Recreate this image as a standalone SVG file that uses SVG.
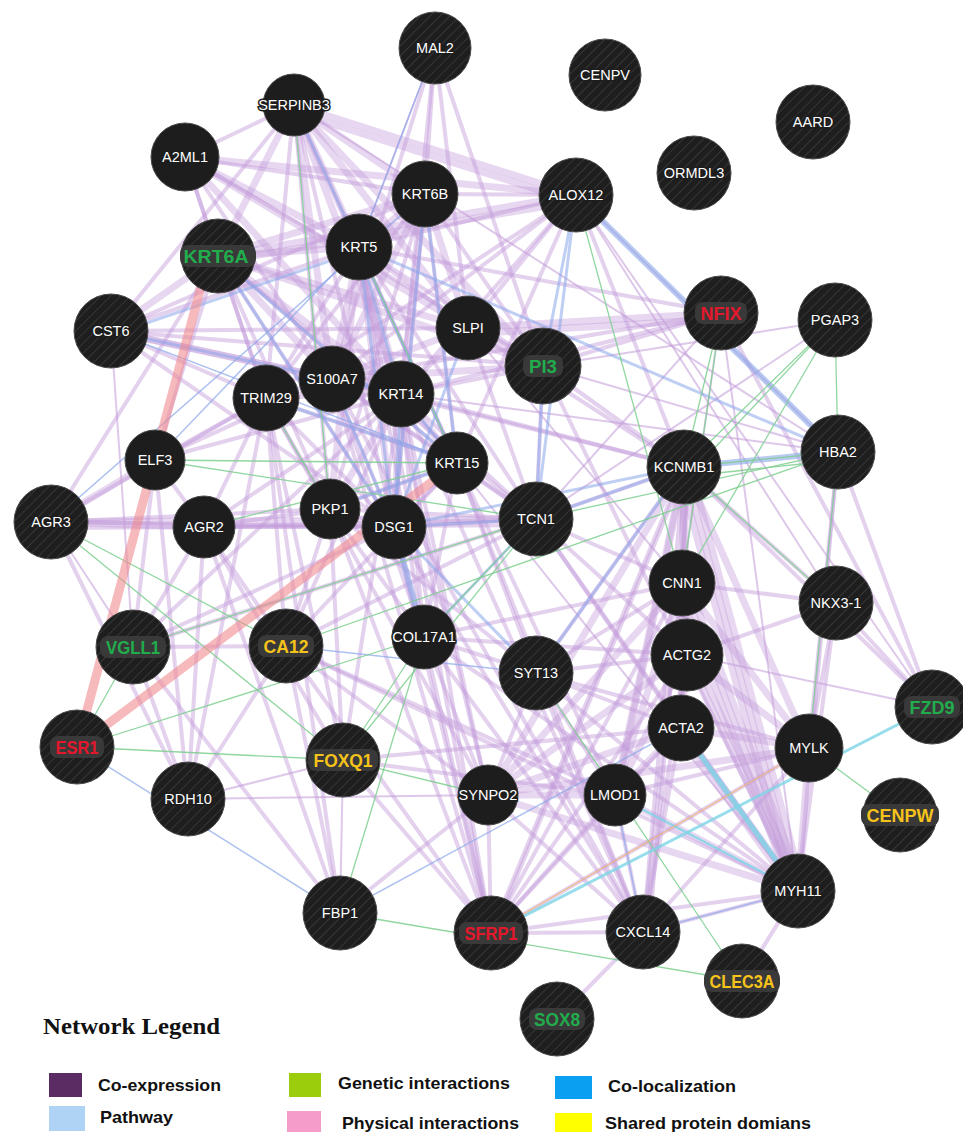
<svg xmlns="http://www.w3.org/2000/svg" width="963" height="1132" viewBox="0 0 963 1132">
<defs>
<pattern id="hatch" width="7" height="7" patternUnits="userSpaceOnUse" patternTransform="rotate(45)">
<rect width="7" height="7" fill="#1e1e1e"/>
<line x1="0" y1="0" x2="0" y2="7" stroke="#363636" stroke-width="2"/>
</pattern>
<style>
.p3 line{stroke:#c39bd9;stroke-opacity:.4;stroke-width:7}
.p2 line{stroke:#c39bd9;stroke-opacity:.46;stroke-width:4}
.p1 line{stroke:#c39bd9;stroke-opacity:.55;stroke-width:2}
.b3 line{stroke:#8aa6ea;stroke-opacity:.6;stroke-width:6}
.b2 line{stroke:#8aa6ea;stroke-opacity:.55;stroke-width:3}
.b1 line{stroke:#8aa6ea;stroke-opacity:.7;stroke-width:1.5}
.gr line{stroke:#7ccf8e;stroke-opacity:.85;stroke-width:1.3}
.rd line{stroke:#f08a8f;stroke-opacity:.6;stroke-width:9}
.cy line{stroke:#7dd4e6;stroke-opacity:.8}
.or line{stroke:#f2b878;stroke-opacity:.8;stroke-width:1.3}
.q{fill:url(#hatch);stroke:#4a4a4a;stroke-width:1}
.s{fill:#1d1d1d;stroke:#4a4a4a;stroke-width:1}
.t{font-family:"Liberation Sans",Arial,sans-serif;font-size:14.5px;fill:#fff;text-anchor:middle;stroke:#1d1d1d;stroke-width:3;paint-order:stroke}
.c{font-family:"Liberation Sans",Arial,sans-serif;font-size:17.5px;font-weight:bold;text-anchor:middle}
.bg{fill:#393939}
.gn{fill:#22ad4c}.rdt{fill:#e3182c}.yl{fill:#f6c31b}
.lg{font-family:"Liberation Sans",Arial,sans-serif;font-size:17px;font-weight:bold;fill:#111}
</style>
</defs>
<rect width="963" height="1132" fill="#fff"/>
<g id="connectors" fill="none" stroke-linecap="round">
<g class="p3">
<line x1="294" y1="105" x2="218" y2="256"/><line x1="294" y1="105" x2="359" y2="247"/><line x1="294" y1="105" x2="425" y2="194"/>
<line x1="294" y1="105" x2="332" y2="379"/><line x1="294" y1="105" x2="401" y2="394"/><line x1="294" y1="105" x2="576" y2="195"/>
<line x1="294" y1="105" x2="468" y2="328"/><line x1="294" y1="105" x2="543" y2="366"/><line x1="294" y1="112" x2="576" y2="202"/>
<line x1="218" y1="256" x2="359" y2="247"/><line x1="218" y1="256" x2="425" y2="194"/><line x1="218" y1="256" x2="401" y2="394"/>
<line x1="218" y1="256" x2="332" y2="379"/><line x1="218" y1="256" x2="468" y2="328"/><line x1="218" y1="256" x2="543" y2="366"/>
<line x1="218" y1="256" x2="576" y2="195"/><line x1="218" y1="262" x2="576" y2="201"/>
<line x1="359" y1="247" x2="401" y2="394"/><line x1="359" y1="247" x2="425" y2="194"/><line x1="359" y1="247" x2="332" y2="379"/>
<line x1="359" y1="247" x2="394" y2="527"/><line x1="359" y1="247" x2="330" y2="509"/>
<line x1="425" y1="194" x2="401" y2="394"/><line x1="425" y1="194" x2="332" y2="379"/><line x1="425" y1="194" x2="468" y2="328"/>
<line x1="401" y1="394" x2="330" y2="509"/><line x1="401" y1="394" x2="394" y2="527"/><line x1="401" y1="394" x2="457" y2="463"/>
<line x1="332" y1="379" x2="543" y2="366"/><line x1="332" y1="379" x2="468" y2="328"/><line x1="468" y1="328" x2="543" y2="366"/>
<line x1="111" y1="331" x2="218" y2="256"/><line x1="111" y1="331" x2="401" y2="394"/><line x1="111" y1="331" x2="332" y2="379"/>
<line x1="721" y1="313" x2="468" y2="328"/><line x1="721" y1="319" x2="468" y2="334"/>
<line x1="185" y1="157" x2="359" y2="247"/><line x1="185" y1="157" x2="401" y2="394"/><line x1="185" y1="157" x2="468" y2="328"/>
<line x1="185" y1="157" x2="576" y2="195"/>
<line x1="51" y1="522" x2="536" y2="519"/><line x1="51" y1="522" x2="204" y2="527"/><line x1="155" y1="460" x2="51" y2="522"/>
<line x1="684" y1="467" x2="682" y2="583"/><line x1="684" y1="467" x2="687" y2="655"/><line x1="684" y1="467" x2="681" y2="728"/>
<line x1="684" y1="467" x2="798" y2="891"/><line x1="690" y1="467" x2="804" y2="891"/><line x1="678" y1="467" x2="792" y2="891"/>
<line x1="684" y1="467" x2="809" y2="748"/><line x1="684" y1="467" x2="615" y2="795"/><line x1="684" y1="473" x2="615" y2="801"/>
<line x1="682" y1="583" x2="687" y2="655"/><line x1="682" y1="583" x2="681" y2="728"/><line x1="682" y1="583" x2="798" y2="891"/>
<line x1="676" y1="583" x2="792" y2="891"/><line x1="688" y1="583" x2="804" y2="891"/><line x1="682" y1="583" x2="809" y2="748"/><line x1="682" y1="583" x2="615" y2="795"/>
<line x1="687" y1="655" x2="681" y2="728"/><line x1="687" y1="655" x2="798" y2="891"/><line x1="693" y1="655" x2="804" y2="891"/>
<line x1="687" y1="655" x2="809" y2="748"/><line x1="687" y1="655" x2="615" y2="795"/>
<line x1="681" y1="728" x2="798" y2="891"/><line x1="681" y1="734" x2="798" y2="897"/><line x1="681" y1="728" x2="809" y2="748"/><line x1="681" y1="728" x2="615" y2="795"/>
<line x1="809" y1="748" x2="798" y2="891"/><line x1="615" y1="795" x2="798" y2="891"/>
<line x1="488" y1="795" x2="798" y2="891"/><line x1="488" y1="795" x2="687" y2="655"/><line x1="488" y1="795" x2="682" y2="583"/>
<line x1="488" y1="795" x2="684" y2="467"/><line x1="488" y1="795" x2="681" y2="728"/><line x1="488" y1="795" x2="615" y2="795"/>
<line x1="488" y1="795" x2="809" y2="748"/>
</g>
<g class="p2">
<line x1="294" y1="105" x2="266" y2="398"/><line x1="294" y1="105" x2="394" y2="527"/><line x1="294" y1="105" x2="330" y2="509"/>
<line x1="294" y1="105" x2="457" y2="463"/>
<line x1="218" y1="256" x2="266" y2="398"/><line x1="218" y1="256" x2="394" y2="527"/><line x1="218" y1="256" x2="330" y2="509"/>
<line x1="218" y1="256" x2="457" y2="463"/>
<line x1="359" y1="247" x2="266" y2="398"/><line x1="359" y1="247" x2="457" y2="463"/><line x1="359" y1="247" x2="576" y2="195"/>
<line x1="359" y1="247" x2="468" y2="328"/><line x1="359" y1="247" x2="543" y2="366"/><line x1="359" y1="247" x2="721" y2="313"/>
<line x1="425" y1="194" x2="576" y2="195"/><line x1="425" y1="194" x2="543" y2="366"/><line x1="425" y1="194" x2="394" y2="527"/>
<line x1="425" y1="194" x2="330" y2="509"/><line x1="425" y1="194" x2="266" y2="398"/><line x1="425" y1="194" x2="457" y2="463"/>
<line x1="401" y1="394" x2="266" y2="398"/><line x1="401" y1="394" x2="468" y2="328"/><line x1="401" y1="394" x2="543" y2="366"/>
<line x1="332" y1="379" x2="266" y2="398"/><line x1="332" y1="379" x2="394" y2="527"/><line x1="332" y1="379" x2="457" y2="463"/>
<line x1="266" y1="398" x2="330" y2="509"/><line x1="266" y1="398" x2="394" y2="527"/><line x1="266" y1="398" x2="457" y2="463"/>
<line x1="330" y1="509" x2="394" y2="527"/><line x1="394" y1="527" x2="457" y2="463"/><line x1="330" y1="509" x2="457" y2="463"/>
<line x1="111" y1="331" x2="359" y2="247"/><line x1="111" y1="331" x2="425" y2="194"/><line x1="111" y1="331" x2="468" y2="328"/>
<line x1="111" y1="331" x2="543" y2="366"/><line x1="111" y1="331" x2="266" y2="398"/><line x1="111" y1="331" x2="394" y2="527"/>
<line x1="111" y1="331" x2="294" y2="105"/>
<line x1="185" y1="157" x2="218" y2="256"/><line x1="185" y1="157" x2="425" y2="194"/><line x1="185" y1="157" x2="332" y2="379"/>
<line x1="185" y1="157" x2="543" y2="366"/><line x1="185" y1="157" x2="266" y2="398"/><line x1="185" y1="157" x2="294" y2="105"/>
<line x1="576" y1="195" x2="468" y2="328"/><line x1="576" y1="195" x2="332" y2="379"/><line x1="576" y1="195" x2="401" y2="394"/>
<line x1="576" y1="195" x2="457" y2="463"/><line x1="576" y1="195" x2="266" y2="398"/>
<line x1="435" y1="48" x2="425" y2="194"/><line x1="435" y1="48" x2="468" y2="328"/><line x1="435" y1="48" x2="543" y2="366"/>
<line x1="435" y1="48" x2="401" y2="394"/><line x1="435" y1="48" x2="332" y2="379"/>
<line x1="155" y1="460" x2="218" y2="256"/><line x1="155" y1="460" x2="266" y2="398"/><line x1="155" y1="460" x2="204" y2="527"/>
<line x1="155" y1="460" x2="332" y2="379"/><line x1="155" y1="460" x2="401" y2="394"/>
<line x1="51" y1="522" x2="330" y2="509"/><line x1="51" y1="522" x2="394" y2="527"/><line x1="51" y1="522" x2="218" y2="256"/>
<line x1="51" y1="522" x2="266" y2="398"/><line x1="51" y1="528" x2="536" y2="525"/>
<line x1="204" y1="527" x2="330" y2="509"/><line x1="204" y1="527" x2="394" y2="527"/><line x1="204" y1="527" x2="536" y2="519"/>
<line x1="204" y1="527" x2="266" y2="398"/><line x1="204" y1="527" x2="401" y2="394"/>
<line x1="536" y1="519" x2="457" y2="463"/><line x1="536" y1="519" x2="394" y2="527"/><line x1="536" y1="519" x2="330" y2="509"/>
<line x1="536" y1="519" x2="401" y2="394"/><line x1="536" y1="519" x2="332" y2="379"/><line x1="536" y1="519" x2="468" y2="328"/>
<line x1="536" y1="519" x2="543" y2="366"/><line x1="536" y1="519" x2="359" y2="247"/><line x1="536" y1="519" x2="218" y2="256"/>
<line x1="424" y1="637" x2="401" y2="394"/><line x1="424" y1="637" x2="359" y2="247"/><line x1="424" y1="637" x2="394" y2="527"/>
<line x1="424" y1="637" x2="457" y2="463"/><line x1="424" y1="637" x2="332" y2="379"/><line x1="424" y1="637" x2="330" y2="509"/>
<line x1="133" y1="647" x2="155" y2="460"/><line x1="133" y1="647" x2="204" y2="527"/><line x1="133" y1="647" x2="394" y2="527"/>
<line x1="133" y1="647" x2="536" y2="519"/><line x1="133" y1="647" x2="286" y2="646"/><line x1="133" y1="647" x2="401" y2="394"/>
<line x1="286" y1="646" x2="204" y2="527"/><line x1="286" y1="646" x2="536" y2="519"/><line x1="286" y1="646" x2="457" y2="463"/>
<line x1="286" y1="646" x2="266" y2="398"/><line x1="286" y1="646" x2="401" y2="394"/><line x1="286" y1="646" x2="330" y2="509"/>
<line x1="343" y1="760" x2="401" y2="394"/><line x1="343" y1="760" x2="266" y2="398"/><line x1="343" y1="760" x2="330" y2="509"/>
<line x1="343" y1="760" x2="204" y2="527"/>
<line x1="188" y1="799" x2="204" y2="527"/><line x1="188" y1="799" x2="155" y2="460"/><line x1="188" y1="799" x2="266" y2="398"/>
<line x1="188" y1="799" x2="51" y2="522"/><line x1="188" y1="799" x2="286" y2="646"/><line x1="188" y1="799" x2="133" y2="647"/>
<line x1="340" y1="913" x2="286" y2="646"/><line x1="340" y1="913" x2="204" y2="527"/><line x1="340" y1="913" x2="266" y2="398"/>
<line x1="340" y1="913" x2="133" y2="647"/>
<line x1="491" y1="933" x2="401" y2="394"/><line x1="491" y1="933" x2="330" y2="509"/><line x1="491" y1="933" x2="359" y2="247"/>
<line x1="491" y1="933" x2="394" y2="527"/><line x1="491" y1="933" x2="332" y2="379"/><line x1="491" y1="933" x2="424" y2="637"/>
<line x1="491" y1="933" x2="286" y2="646"/><line x1="491" y1="933" x2="343" y2="760"/>
<line x1="721" y1="313" x2="332" y2="379"/><line x1="721" y1="313" x2="543" y2="366"/><line x1="721" y1="313" x2="932" y2="707"/>
<line x1="721" y1="313" x2="401" y2="394"/>
<line x1="684" y1="467" x2="536" y2="673"/><line x1="684" y1="467" x2="491" y2="933"/><line x1="684" y1="467" x2="643" y2="932"/>
<line x1="684" y1="467" x2="836" y2="603"/><line x1="690" y1="467" x2="649" y2="932"/><line x1="684" y1="473" x2="491" y2="939"/>
<line x1="682" y1="583" x2="491" y2="933"/><line x1="682" y1="583" x2="643" y2="932"/>
<line x1="687" y1="655" x2="491" y2="933"/><line x1="687" y1="655" x2="643" y2="932"/>
<line x1="798" y1="891" x2="643" y2="932"/><line x1="798" y1="891" x2="491" y2="933"/><line x1="798" y1="891" x2="536" y2="673"/>
<line x1="798" y1="891" x2="836" y2="603"/><line x1="798" y1="891" x2="838" y2="452"/><line x1="798" y1="891" x2="742" y2="981"/>
<line x1="809" y1="748" x2="643" y2="932"/><line x1="809" y1="748" x2="491" y2="933"/>
<line x1="615" y1="795" x2="491" y2="933"/><line x1="615" y1="795" x2="643" y2="932"/>
<line x1="681" y1="728" x2="491" y2="933"/><line x1="681" y1="728" x2="643" y2="932"/>
<line x1="536" y1="673" x2="682" y2="583"/><line x1="536" y1="673" x2="687" y2="655"/><line x1="536" y1="673" x2="615" y2="795"/>
<line x1="536" y1="673" x2="488" y2="795"/><line x1="536" y1="673" x2="681" y2="728"/>
<line x1="536" y1="673" x2="809" y2="748"/><line x1="536" y1="673" x2="643" y2="932"/><line x1="488" y1="795" x2="643" y2="932"/>
<line x1="488" y1="795" x2="491" y2="933"/><line x1="615" y1="795" x2="809" y2="748"/><line x1="424" y1="637" x2="643" y2="932"/>
<line x1="424" y1="637" x2="682" y2="583"/><line x1="536" y1="519" x2="687" y2="655"/><line x1="536" y1="519" x2="681" y2="728"/>
<line x1="836" y1="603" x2="687" y2="655"/><line x1="836" y1="603" x2="682" y2="583"/><line x1="836" y1="603" x2="932" y2="707"/>
<line x1="838" y1="452" x2="932" y2="707"/><line x1="684" y1="467" x2="932" y2="707"/><line x1="836" y1="603" x2="809" y2="748"/>
<line x1="838" y1="452" x2="809" y2="748"/>
<line x1="557" y1="1019" x2="643" y2="932"/><line x1="491" y1="933" x2="643" y2="932"/>
<line x1="536" y1="519" x2="684" y2="467"/><line x1="536" y1="519" x2="682" y2="583"/><line x1="536" y1="519" x2="798" y2="891"/>
<line x1="424" y1="637" x2="687" y2="655"/><line x1="424" y1="637" x2="798" y2="891"/><line x1="424" y1="637" x2="488" y2="795"/>
<line x1="286" y1="646" x2="488" y2="795"/><line x1="286" y1="646" x2="615" y2="795"/><line x1="286" y1="646" x2="798" y2="891"/>
<line x1="343" y1="760" x2="615" y2="795"/><line x1="343" y1="760" x2="681" y2="728"/><line x1="340" y1="913" x2="488" y2="795"/>
<line x1="576" y1="195" x2="684" y2="467"/><line x1="543" y1="366" x2="684" y2="467"/><line x1="543" y1="366" x2="798" y2="891"/>
<line x1="468" y1="328" x2="684" y2="467"/><line x1="401" y1="394" x2="684" y2="467"/><line x1="332" y1="379" x2="684" y2="467"/>
<line x1="643" y1="932" x2="401" y2="394"/><line x1="643" y1="932" x2="457" y2="463"/><line x1="643" y1="932" x2="332" y2="379"/>
<line x1="643" y1="932" x2="394" y2="527"/>
<line x1="488" y1="795" x2="401" y2="394"/><line x1="488" y1="795" x2="359" y2="247"/><line x1="488" y1="795" x2="266" y2="398"/>
<line x1="615" y1="795" x2="457" y2="463"/><line x1="536" y1="673" x2="457" y2="463"/><line x1="536" y1="673" x2="330" y2="509"/>
<line x1="536" y1="673" x2="424" y2="637"/>
</g>
<g class="p1">
<line x1="835" y1="320" x2="543" y2="366"/><line x1="835" y1="320" x2="536" y2="519"/><line x1="721" y1="313" x2="536" y2="519"/>
<line x1="721" y1="313" x2="682" y2="583"/><line x1="721" y1="313" x2="798" y2="891"/><line x1="932" y1="707" x2="687" y2="655"/>
<line x1="188" y1="799" x2="488" y2="795"/><line x1="188" y1="799" x2="343" y2="760"/><line x1="111" y1="331" x2="133" y2="647"/>
<line x1="838" y1="452" x2="543" y2="366"/><line x1="838" y1="452" x2="401" y2="394"/><line x1="576" y1="195" x2="836" y2="603"/>
<line x1="576" y1="195" x2="932" y2="707"/><line x1="576" y1="195" x2="838" y2="452"/><line x1="435" y1="48" x2="359" y2="247"/>
<line x1="340" y1="913" x2="343" y2="760"/><line x1="51" y1="522" x2="133" y2="647"/><line x1="294" y1="105" x2="838" y2="452"/>
<line x1="401" y1="394" x2="798" y2="891"/><line x1="468" y1="328" x2="682" y2="583"/>
</g>
<g class="b3">
<line x1="576" y1="195" x2="838" y2="452"/><line x1="684" y1="467" x2="838" y2="452"/><line x1="394" y1="527" x2="424" y2="637"/>
</g>
<g class="b2">
<line x1="576" y1="195" x2="543" y2="366"/><line x1="576" y1="195" x2="536" y2="519"/><line x1="684" y1="467" x2="536" y2="519"/>
<line x1="684" y1="467" x2="394" y2="527"/><line x1="359" y1="247" x2="838" y2="452"/><line x1="111" y1="335" x2="359" y2="251"/>
<line x1="218" y1="256" x2="394" y2="527"/><line x1="218" y1="256" x2="457" y2="463"/><line x1="425" y1="194" x2="457" y2="463"/>
<line x1="294" y1="105" x2="457" y2="463"/><line x1="330" y1="509" x2="457" y2="463"/><line x1="401" y1="394" x2="457" y2="463"/>
<line x1="359" y1="247" x2="401" y2="394"/><line x1="266" y1="398" x2="457" y2="463"/><line x1="543" y1="366" x2="536" y2="519"/>
<line x1="394" y1="527" x2="536" y2="519"/><line x1="394" y1="527" x2="536" y2="673"/><line x1="424" y1="637" x2="536" y2="519"/>
<line x1="536" y1="673" x2="684" y2="467"/><line x1="111" y1="331" x2="401" y2="394"/><line x1="359" y1="247" x2="394" y2="527"/>
<line x1="332" y1="379" x2="394" y2="527"/><line x1="401" y1="394" x2="394" y2="527"/><line x1="425" y1="194" x2="394" y2="527"/>
<line x1="468" y1="328" x2="394" y2="527"/>
</g>
<g class="b1">
<line x1="435" y1="48" x2="359" y2="247"/><line x1="77" y1="747" x2="340" y2="913"/><line x1="286" y1="646" x2="536" y2="673"/>
<line x1="340" y1="913" x2="681" y2="728"/><line x1="643" y1="932" x2="798" y2="891"/><line x1="615" y1="795" x2="643" y2="932"/>
<line x1="155" y1="460" x2="359" y2="247"/><line x1="111" y1="331" x2="457" y2="463"/><line x1="51" y1="522" x2="425" y2="194"/>
</g>
<g class="gr">
<line x1="835" y1="320" x2="684" y2="467"/><line x1="835" y1="320" x2="692" y2="472"/><line x1="835" y1="320" x2="838" y2="452"/>
<line x1="835" y1="320" x2="682" y2="583"/><line x1="721" y1="313" x2="684" y2="467"/><line x1="721" y1="313" x2="682" y2="583"/>
<line x1="838" y1="452" x2="684" y2="467"/><line x1="838" y1="460" x2="690" y2="476"/><line x1="838" y1="452" x2="809" y2="748"/>
<line x1="838" y1="452" x2="536" y2="519"/><line x1="576" y1="195" x2="682" y2="583"/><line x1="294" y1="105" x2="330" y2="509"/>
<line x1="77" y1="747" x2="133" y2="647"/><line x1="77" y1="747" x2="343" y2="760"/><line x1="51" y1="522" x2="286" y2="646"/>
<line x1="51" y1="522" x2="343" y2="760"/><line x1="155" y1="460" x2="536" y2="519"/><line x1="155" y1="460" x2="457" y2="463"/>
<line x1="204" y1="527" x2="457" y2="463"/><line x1="286" y1="646" x2="838" y2="452"/><line x1="424" y1="637" x2="536" y2="519"/>
<line x1="343" y1="760" x2="536" y2="519"/><line x1="343" y1="760" x2="424" y2="637"/><line x1="424" y1="637" x2="340" y2="913"/>
<line x1="340" y1="913" x2="742" y2="981"/><line x1="536" y1="673" x2="742" y2="981"/><line x1="809" y1="748" x2="900" y2="815"/>
<line x1="343" y1="760" x2="488" y2="795"/><line x1="836" y1="603" x2="684" y2="467"/><line x1="266" y1="398" x2="330" y2="509"/>
<line x1="359" y1="247" x2="457" y2="463"/><line x1="77" y1="747" x2="424" y2="637"/><line x1="133" y1="647" x2="536" y2="519"/>
</g>
<g class="rd">
<line x1="77" y1="747" x2="205" y2="272"/><line x1="77" y1="747" x2="457" y2="463"/>
</g>
<g class="cy">
<line x1="491" y1="933" x2="932" y2="707" stroke-width="3"/><line x1="681" y1="728" x2="798" y2="891" stroke-width="5"/>
<line x1="615" y1="795" x2="798" y2="891" stroke-width="2.5"/>
</g>
<g class="or">
<line x1="491" y1="933" x2="809" y2="748"/>
</g>
</g>
<g id="nodes">
<g id="n-MAL2"><circle class="q" cx="435" cy="48" r="36"/><text class="t" x="435" y="53">MAL2</text></g>
<g id="n-CENPV"><circle class="q" cx="605" cy="75" r="36"/><text class="t" x="605" y="80">CENPV</text></g>
<g id="n-AARD"><circle class="q" cx="813" cy="122" r="37"/><text class="t" x="813" y="127">AARD</text></g>
<g id="n-SERPINB3"><circle class="s" cx="294" cy="105" r="31"/><text class="t" x="294" y="110">SERPINB3</text></g>
<g id="n-A2ML1"><circle class="s" cx="185" cy="157" r="34"/><text class="t" x="185" y="162">A2ML1</text></g>
<g id="n-ORMDL3"><circle class="q" cx="694" cy="173" r="37"/><text class="t" x="694" y="178">ORMDL3</text></g>
<g id="n-KRT6B"><circle class="s" cx="425" cy="194" r="33"/><text class="t" x="425" y="199">KRT6B</text></g>
<g id="n-ALOX12"><circle class="q" cx="576" cy="195" r="37"/><text class="t" x="576" y="200">ALOX12</text></g>
<g id="n-KRT6A"><circle class="q" cx="218" cy="256" r="37"/><rect class="bg" x="180" y="245" width="76" height="22" rx="8"/><text class="c gn" x="216" y="263" textLength="65" lengthAdjust="spacingAndGlyphs">KRT6A</text></g>
<g id="n-KRT5"><circle class="s" cx="359" cy="247" r="33"/><text class="t" x="359" y="252">KRT5</text></g>
<g id="n-NFIX"><circle class="q" cx="721" cy="313" r="37"/><rect class="bg" x="695" y="302" width="52" height="22" rx="8"/><text class="c rdt" x="721" y="320" textLength="41" lengthAdjust="spacingAndGlyphs">NFIX</text></g>
<g id="n-PGAP3"><circle class="q" cx="835" cy="320" r="37"/><text class="t" x="835" y="325">PGAP3</text></g>
<g id="n-CST6"><circle class="q" cx="111" cy="331" r="37"/><text class="t" x="111" y="336">CST6</text></g>
<g id="n-SLPI"><circle class="s" cx="468" cy="328" r="32"/><text class="t" x="468" y="333">SLPI</text></g>
<g id="n-PI3"><circle class="q" cx="543" cy="366" r="38"/><rect class="bg" x="523" y="355" width="40" height="22" rx="8"/><text class="c gn" x="543" y="373" textLength="28" lengthAdjust="spacingAndGlyphs">PI3</text></g>
<g id="n-S100A7"><circle class="s" cx="332" cy="379" r="33"/><text class="t" x="332" y="384">S100A7</text></g>
<g id="n-KRT14"><circle class="s" cx="401" cy="394" r="33"/><text class="t" x="401" y="399">KRT14</text></g>
<g id="n-TRIM29"><circle class="s" cx="266" cy="398" r="33"/><text class="t" x="266" y="403">TRIM29</text></g>
<g id="n-HBA2"><circle class="q" cx="838" cy="452" r="37"/><text class="t" x="838" y="457">HBA2</text></g>
<g id="n-KRT15"><circle class="s" cx="457" cy="463" r="31"/><text class="t" x="457" y="468">KRT15</text></g>
<g id="n-KCNMB1"><circle class="q" cx="684" cy="467" r="37"/><text class="t" x="684" y="472">KCNMB1</text></g>
<g id="n-ELF3"><circle class="s" cx="155" cy="460" r="30"/><text class="t" x="155" y="465">ELF3</text></g>
<g id="n-AGR3"><circle class="q" cx="51" cy="522" r="37"/><text class="t" x="51" y="527">AGR3</text></g>
<g id="n-AGR2"><circle class="s" cx="204" cy="527" r="31"/><text class="t" x="204" y="532">AGR2</text></g>
<g id="n-PKP1"><circle class="s" cx="330" cy="509" r="30"/><text class="t" x="330" y="514">PKP1</text></g>
<g id="n-DSG1"><circle class="s" cx="394" cy="527" r="32"/><text class="t" x="394" y="532">DSG1</text></g>
<g id="n-TCN1"><circle class="q" cx="536" cy="519" r="37"/><text class="t" x="536" y="524">TCN1</text></g>
<g id="n-CNN1"><circle class="s" cx="682" cy="583" r="33"/><text class="t" x="682" y="588">CNN1</text></g>
<g id="n-NKX3-1"><circle class="q" cx="836" cy="603" r="37"/><text class="t" x="836" y="608">NKX3-1</text></g>
<g id="n-VGLL1"><circle class="q" cx="133" cy="647" r="37"/><rect class="bg" x="100" y="636" width="66" height="22" rx="8"/><text class="c gn" x="133" y="654" textLength="54" lengthAdjust="spacingAndGlyphs">VGLL1</text></g>
<g id="n-CA12"><circle class="q" cx="286" cy="646" r="37"/><rect class="bg" x="258" y="635" width="56" height="22" rx="8"/><text class="c yl" x="286" y="653" textLength="45" lengthAdjust="spacingAndGlyphs">CA12</text></g>
<g id="n-COL17A1"><circle class="s" cx="424" cy="637" r="32"/><text class="t" x="424" y="642">COL17A1</text></g>
<g id="n-ACTG2"><circle class="s" cx="687" cy="655" r="36"/><text class="t" x="687" y="660">ACTG2</text></g>
<g id="n-SYT13"><circle class="q" cx="536" cy="673" r="37"/><text class="t" x="536" y="678">SYT13</text></g>
<g id="n-FZD9"><circle class="q" cx="932" cy="707" r="37"/><rect class="bg" x="904" y="696" width="56" height="22" rx="8"/><text class="c gn" x="932" y="714" textLength="45" lengthAdjust="spacingAndGlyphs">FZD9</text></g>
<g id="n-ESR1"><circle class="q" cx="77" cy="747" r="37"/><rect class="bg" x="50" y="736" width="54" height="22" rx="8"/><text class="c rdt" x="77" y="754" textLength="43" lengthAdjust="spacingAndGlyphs">ESR1</text></g>
<g id="n-FOXQ1"><circle class="q" cx="343" cy="760" r="37"/><rect class="bg" x="308" y="749" width="70" height="22" rx="8"/><text class="c yl" x="343" y="767" textLength="59" lengthAdjust="spacingAndGlyphs">FOXQ1</text></g>
<g id="n-ACTA2"><circle class="s" cx="681" cy="728" r="33"/><text class="t" x="681" y="733">ACTA2</text></g>
<g id="n-MYLK"><circle class="s" cx="809" cy="748" r="34"/><text class="t" x="809" y="753">MYLK</text></g>
<g id="n-RDH10"><circle class="q" cx="188" cy="799" r="37"/><text class="t" x="188" y="804">RDH10</text></g>
<g id="n-SYNPO2"><circle class="s" cx="488" cy="795" r="30"/><text class="t" x="488" y="800">SYNPO2</text></g>
<g id="n-LMOD1"><circle class="s" cx="615" cy="795" r="31"/><text class="t" x="615" y="800">LMOD1</text></g>
<g id="n-CENPW"><circle class="q" cx="900" cy="815" r="37"/><rect class="bg" x="861" y="804" width="78" height="22" rx="8"/><text class="c yl" x="900" y="822" textLength="67" lengthAdjust="spacingAndGlyphs">CENPW</text></g>
<g id="n-MYH11"><circle class="q" cx="798" cy="891" r="37"/><text class="t" x="798" y="896">MYH11</text></g>
<g id="n-FBP1"><circle class="q" cx="340" cy="913" r="37"/><text class="t" x="340" y="918">FBP1</text></g>
<g id="n-SFRP1"><circle class="q" cx="491" cy="933" r="37"/><rect class="bg" x="459" y="922" width="64" height="22" rx="8"/><text class="c rdt" x="491" y="940" textLength="53" lengthAdjust="spacingAndGlyphs">SFRP1</text></g>
<g id="n-CXCL14"><circle class="q" cx="643" cy="932" r="37"/><text class="t" x="643" y="937">CXCL14</text></g>
<g id="n-CLEC3A"><circle class="q" cx="742" cy="981" r="37"/><rect class="bg" x="704" y="970" width="76" height="22" rx="8"/><text class="c yl" x="742" y="988" textLength="65" lengthAdjust="spacingAndGlyphs">CLEC3A</text></g>
<g id="n-SOX8"><circle class="q" cx="557" cy="1019" r="37"/><rect class="bg" x="529" y="1008" width="56" height="22" rx="8"/><text class="c gn" x="557" y="1026" textLength="46" lengthAdjust="spacingAndGlyphs">SOX8</text></g>
</g>
<g id="legend">
<text x="43" y="1034" font-family="'Liberation Serif','Times New Roman',serif" font-size="23" font-weight="bold" fill="#111" textLength="177" lengthAdjust="spacingAndGlyphs">Network Legend</text>
<rect x="49" y="1073" width="33" height="24" fill="#5b2c63"/>
<text class="lg" x="98" y="1091" textLength="123" lengthAdjust="spacingAndGlyphs">Co-expression</text>
<rect x="49" y="1106" width="36" height="25" fill="#aed3f5"/>
<text class="lg" x="100" y="1123" textLength="73" lengthAdjust="spacingAndGlyphs">Pathway</text>
<rect x="289" y="1073" width="32" height="24" fill="#9ccd0c"/>
<text class="lg" x="338" y="1089" textLength="172" lengthAdjust="spacingAndGlyphs">Genetic interactions</text>
<rect x="287" y="1111" width="34" height="21" fill="#f69ccb"/>
<text class="lg" x="342" y="1129" textLength="177" lengthAdjust="spacingAndGlyphs">Physical interactions</text>
<rect x="555" y="1076" width="37" height="23" fill="#0a9ff0"/>
<text class="lg" x="608" y="1092" textLength="128" lengthAdjust="spacingAndGlyphs">Co-localization</text>
<rect x="555" y="1113" width="37" height="19" fill="#ffff00"/>
<text class="lg" x="605" y="1129" textLength="206" lengthAdjust="spacingAndGlyphs">Shared protein domians</text>
</g>
</svg>
